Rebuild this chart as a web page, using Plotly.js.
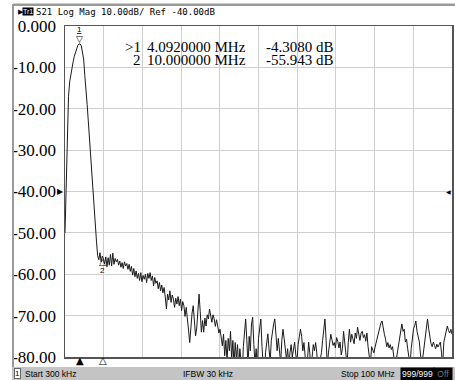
<!DOCTYPE html>
<html>
<head>
<meta charset="utf-8">
<script src="https://cdn.plot.ly/plotly-3.0.1.min.js"></script>
<style>html,body{margin:0;padding:0;background:#fff;}#chart{width:455px;height:380px;}</style>
</head>
<body>
<div id="chart"></div>
<script>
// Sweep definition (linear sweep, as shown in status bar)
const startMHz = 0.3;
const stopMHz = 100;
// S21 log magnitude (dB)
const s21dB = [
 -50, -36, -24, -17, -13.5, -11.5, -10, -8.6, -7.3, -6.2,
 -5.3, -4.7, -4.35, -4.33, -4.8, -6, -8, -12, -15, -19,
 -23, -27.5, -32, -36, -40, -44, -48, -52, -55.5, -56.5,
 -54.8, -57, -55.6, -56.3,
 -57.5, -55.8, -58.2, -56.0, -57.8, -55.2, -58.0, -54.9, -57.6, -56.2,
 -57.0, -56.4, -57.8, -56.8, -58.3, -57.2, -58.6, -57.0, -58.0, -57.4,
 -58.8, -57.6, -59.3, -58.1, -60.2, -58.6, -60.6,
 -59.2, -61.0, -59.8, -61.5, -59.6, -61.8, -60.3, -61.2, -60.0, -62.0, -59.8, -61.0, -59.6,
 -61.5, -60.4, -62.8, -60.8, -62.2, -61.6, -63.5, -62.0, -64.0, -62.6,
 -64.5, -63.2, -65.5, -68.4, -64.8, -66.2, -64.0, -66.8, -65.0, -66.0,
 -68.0, -65.8, -67.2, -65.4, -67.6, -66.0, -68.8, -66.6, -67.6, -70.2,
 -68.0, -71.6, -73.5, -76.5, -72.0, -69.4, -67.6, -71.5, -74.9, -73.0,
 -68.5, -64.8, -69.0, -74.0, -71.2, -74.0, -70.6, -72.5, -69.8, -70.8,
 -68.4, -70.2, -71.6, -69.8, -70.8, -72.6, -71.0, -72.5, -74.2, -73.3,
 -75.0, -77.3, -74.5, -79.7, -76.0, -81.0, -75.5, -78.5, -73.8, -80.5, -76.0,
 -82, -76.5, -80.5, -77.0, -83, -78.0, -81, -84, -77.5, -74.0,
 -70.8, -76.0, -82, -75.0, -78.5, -72.0, -70.4, -77.0, -81.5, -78.0,
 -83, -75.5, -72.5, -70.8, -77.5, -82, -86, -79.0, -76.5, -74.4,
 -78.0, -81.0, -76.0, -73.5, -72.0, -70.8, -74.0, -78.5, -75.5, -79.0,
 -81.5, -76.0, -73.3, -75.5, -77.5, -80.5, -78.0, -82, -79.0, -77.0,
 -80.0, -78.5, -76.4, -79.5,
 -81, -77, -75.5, -73.3, -75.0, -78.5, -76.5, -79.5, -83, -81,
 -76.4, -79, -83, -80, -77, -78.5, -76.5, -79, -83, -82,
 -80.5, -79, -76, -73, -70.8, -76, -82, -79, -76.5, -74.5,
 -75.8, -77.2, -76.5, -77.8, -75.3, -76.2, -77.8, -76.4, -79.5, -78,
 -73.8, -76, -79.5, -82, -76.5, -73.3, -76.4, -74.5, -75.6, -76.8,
 -74.2, -75.5, -72.8, -74.6, -76.0, -74.2, -73.8, -75.3, -74.6, -76.2,
 -74.2, -77.5, -80, -82, -77.5, -78.2, -79, -77.6, -76.5, -75.3,
 -74.0, -72.6, -71.8, -71.3, -73.2, -74.5, -75.7, -77.5, -76.5, -77.8,
 -77, -78.2, -77.5, -80, -82, -81, -79, -77.5, -75.5, -73.6,
 -72, -73.8, -73.3, -76.4, -75.7, -78, -80.5, -82, -78, -74.8,
 -73.2, -72.4, -71.3, -73.8, -75.5, -76.4, -79.5, -82, -80, -77.5,
 -75, -72.6, -70.8, -73.2, -75.7, -76.8, -77.5, -76.4, -77.2, -78,
 -76.9, -77.6, -77, -76.4, -79, -82, -76.4, -75, -73.5, -72.5,
 -73.6, -74.2, -73.3, -74.5
];
// Markers
const markerIds = ['1', '2'];
const markerFreqMHz = [4.092, 10.0];
const markerDb = [-4.308, -55.943];
const markerFreqText = ['4.0920000 MHz', '10.000000 MHz'];
const markerDbText = ['-4.3080 dB', '-55.943 dB'];
// Y axis
const yTickVals = [0, -10, -20, -30, -40, -50, -60, -70, -80];
const yTickText = ['0.000', '-10.00', '-20.00', '-30.00', '-40.00', '-50.00', '-60.00', '-70.00', '-80.00'];
const refLevelDb = -40;

const freqMHz = s21dB.map((_, i) => startMHz + i * (stopMHz - startMHz) / (s21dB.length - 1));

// plot-area geometry helpers (paper coords from pixel)
const L = 65, R = 452, T = 26, B = 357;
const px = x => (x - L) / (R - L);
const py = y => (B - y) / (B - T);

const annotations = [];
const shapes = [];
const serif = 'Liberation Serif, Times New Roman, serif';
const sans = 'Liberation Sans, Arial, sans-serif';
const mono = 'DejaVu Sans Mono, monospace';
const sym = 'DejaVu Sans, sans-serif';

// outer frame lines
shapes.push({type:'rect', xref:'paper', yref:'paper', x0:px(13), x1:px(456), y0:py(6), y1:py(3.5), fillcolor:'#9a9a9a', line:{width:0}, layer:'above'});
shapes.push({type:'rect', xref:'paper', yref:'paper', x0:px(12), x1:px(14), y0:py(367), y1:py(4), fillcolor:'#9a9a9a', line:{width:0}, layer:'above'});
// status bar
shapes.push({type:'rect', xref:'paper', yref:'paper', x0:px(12), x1:px(456), y0:py(381), y1:py(367), fillcolor:'#c4c4c4', line:{width:0}, layer:'above'});

// header
annotations.push({xref:'paper', yref:'paper', x:px(16), y:py(11.5), xanchor:'left', yanchor:'middle', showarrow:false, text:'▶', font:{family:sym, size:7, color:'#000'}});
annotations.push({xref:'paper', yref:'paper', x:px(22), y:py(11.5), xanchor:'left', yanchor:'middle', showarrow:false, text:'Tr1', bgcolor:'#000', borderpad:0, font:{family:sans, size:7, color:'#fff'}});
annotations.push({xref:'paper', yref:'paper', x:px(34), y:py(11.5), xanchor:'left', yanchor:'middle', showarrow:false, text:'S21 Log Mag 10.00dB/ Ref -40.00dB', font:{family:mono, size:9, color:'#000'}});

// marker readout
markerIds.forEach((id, k) => {
  const yy = py(47 + k * 13.5);
  const common = {xref:'paper', yref:'paper', y:yy, yanchor:'middle', showarrow:false, borderpad:0, font:{family:serif, size:15, color:'#000'}};
  annotations.push(Object.assign({}, common, {x:px(142), xanchor:'right', text:(k === 0 ? '&gt;' : '') + id}));
  annotations.push(Object.assign({}, common, {x:px(247), xanchor:'right', text:markerFreqText[k]}));
  annotations.push(Object.assign({}, common, {x:px(265), xanchor:'left', text:markerDbText[k]}));
});

// markers on trace
annotations.push({xref:'x', yref:'y', x:markerFreqMHz[0], y:markerDb[0], yshift:5, xanchor:'center', yanchor:'middle', showarrow:false, text:'▽', font:{family:sym, size:9, color:'#000'}});
annotations.push({xref:'x', yref:'y', x:markerFreqMHz[0], y:markerDb[0], yshift:14, xanchor:'center', yanchor:'middle', showarrow:false, text:'<u>1</u>', font:{family:sans, size:8, color:'#000'}});
annotations.push({xref:'x', yref:'y', x:markerFreqMHz[1], y:markerDb[1], yshift:-5, xanchor:'center', yanchor:'middle', showarrow:false, text:'△', font:{family:sym, size:9, color:'#000'}});
annotations.push({xref:'x', yref:'y', x:markerFreqMHz[1], y:markerDb[1], yshift:-13, xanchor:'center', yanchor:'middle', showarrow:false, text:'2', font:{family:sans, size:8, color:'#000'}});

// marker position indicators under axis
annotations.push({xref:'x', yref:'paper', x:markerFreqMHz[0], y:py(361), xanchor:'center', yanchor:'middle', showarrow:false, text:'▲', font:{family:sym, size:10, color:'#000'}});
annotations.push({xref:'x', yref:'paper', x:markerFreqMHz[1], y:py(361), xanchor:'center', yanchor:'middle', showarrow:false, text:'△', font:{family:sym, size:10, color:'#000'}});

// reference level arrows
annotations.push({xref:'paper', yref:'y', x:0, y:refLevelDb, xanchor:'right', yanchor:'middle', showarrow:false, borderpad:0, text:'▶', font:{family:sym, size:8, color:'#000'}});
annotations.push({xref:'paper', yref:'y', x:1, y:refLevelDb, xanchor:'right', yanchor:'middle', showarrow:false, borderpad:0, text:'◀', font:{family:sym, size:6, color:'#000'}});

// status bar
const sy = py(374);
annotations.push({xref:'paper', yref:'paper', x:px(14), y:sy, xanchor:'left', yanchor:'middle', showarrow:false, text:'1', bgcolor:'#fff', bordercolor:'#666', borderwidth:1, borderpad:0, font:{family:sans, size:8, color:'#000'}});
annotations.push({xref:'paper', yref:'paper', x:px(23), y:sy, xanchor:'left', yanchor:'middle', showarrow:false, text:'Start 300 kHz', font:{family:sans, size:8.5, color:'#000'}});
annotations.push({xref:'paper', yref:'paper', x:px(208), y:sy, xanchor:'center', yanchor:'middle', showarrow:false, text:'IFBW 30 kHz', font:{family:sans, size:8.5, color:'#000'}});
annotations.push({xref:'paper', yref:'paper', x:px(397), y:sy, xanchor:'right', yanchor:'middle', showarrow:false, text:'Stop 100 MHz', font:{family:sans, size:8.5, color:'#000'}});
annotations.push({xref:'paper', yref:'paper', x:px(417), y:sy, xanchor:'center', yanchor:'middle', showarrow:false, text:'999/999', bgcolor:'#000', borderpad:1, font:{family:sans, size:8.5, color:'#fff'}});
annotations.push({xref:'paper', yref:'paper', x:px(443), y:sy, xanchor:'center', yanchor:'middle', showarrow:false, text:' Off ', bgcolor:'#000', borderpad:1, font:{family:sans, size:8.5, color:'#777'}});

const trace = {
  x: freqMHz, y: s21dB, type:'scatter', mode:'lines',
  line:{color:'#1a1a1a', width:1}, hoverinfo:'skip'
};

const layout = {
  width:455, height:380,
  margin:{l:L, r:455 - R, t:T, b:380 - B, pad:0},
  paper_bgcolor:'#fff', plot_bgcolor:'#fff',
  showlegend:false,
  xaxis:{range:[startMHz, stopMHz], tick0:startMHz, dtick:(stopMHz - startMHz) / 10, showticklabels:false,
    showgrid:true, gridcolor:'#cfcfcf', gridwidth:1, zeroline:false, ticks:'',
    showline:true, mirror:true, linecolor:'#555', linewidth:1.5, fixedrange:true},
  yaxis:{range:[-80, 0], tickvals:yTickVals, ticktext:yTickText, showgrid:true, gridcolor:'#cfcfcf', gridwidth:1,
    zeroline:false, ticks:'', showline:true, mirror:true, linecolor:'#555', linewidth:1.5, ticklabelstandoff:4,
    tickfont:{family:serif, size:17, color:'#000'}, fixedrange:true},
  annotations: annotations,
  shapes: shapes
};

Plotly.newPlot('chart', [trace], layout, {staticPlot:true, displayModeBar:false});
</script>
</body>
</html>
